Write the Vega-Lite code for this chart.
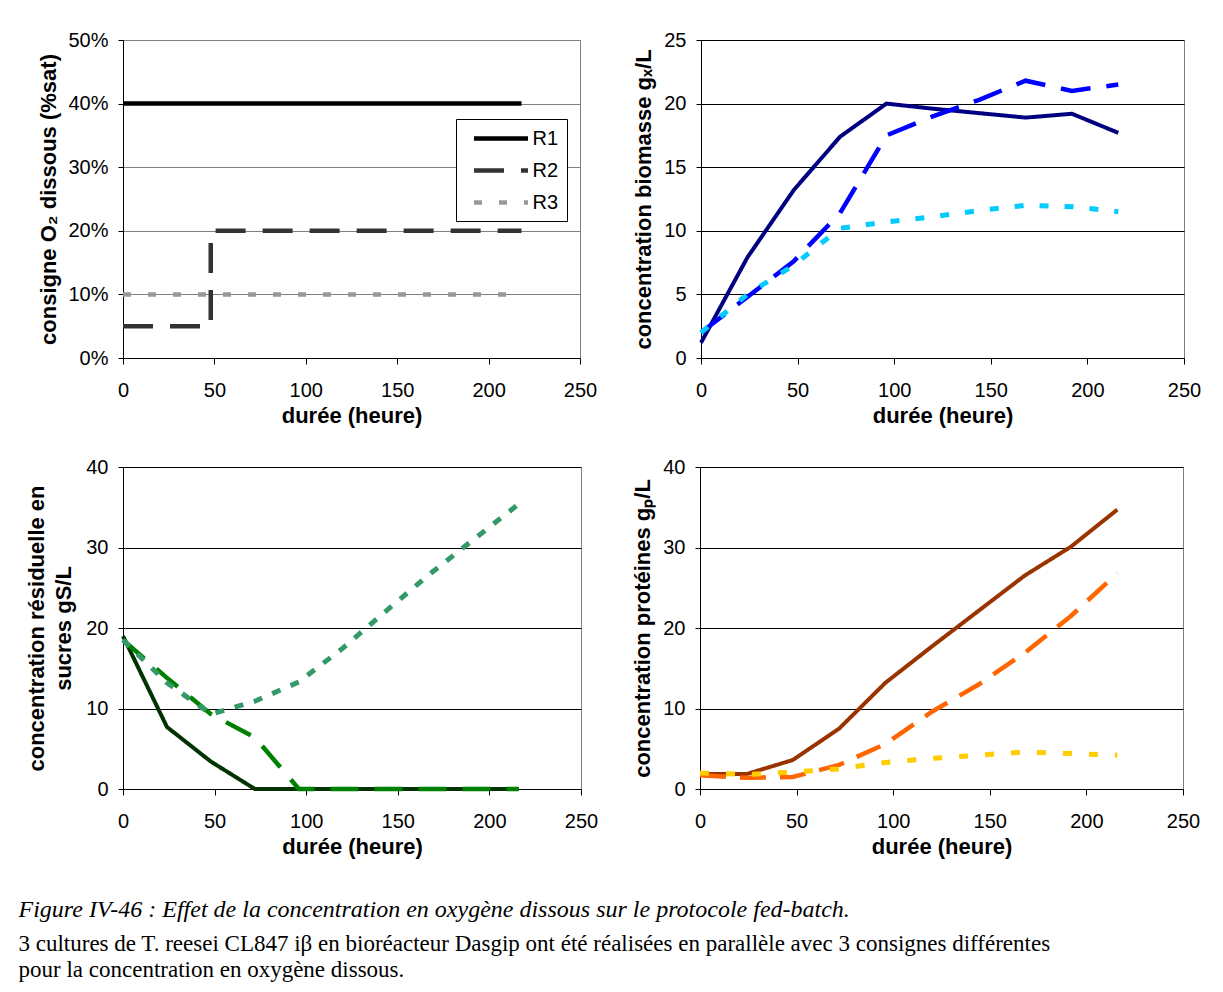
{
  "$schema": "https://vega.github.io/schema/vega-lite/v6.json",
  "background": "white",
  "padding": {"left": 18, "top": 29, "right": 0, "bottom": 0},
  "autosize": {"type": "pad"},
  "config": {
    "font": "Liberation Sans",
    "view": {"stroke": "#808080", "strokeWidth": 1},
    "axis": {
      "labelFont": "Liberation Sans", "labelFontSize": 20, "labelColor": "black",
      "titleFont": "Liberation Sans", "titleFontSize": 22, "titleFontWeight": "bold", "titleColor": "black",
      "domainColor": "black", "tickColor": "black", "gridColor": "black", "gridWidth": 1, "labelOverlap": false
    },
    "axisX": {"grid": false, "tickSize": 6, "labelPadding": 16, "titlePadding": 5, "labelFlush": false},
    "axisY": {"tickSize": 5, "labelPadding": 10},
    "line": {"strokeCap": "butt", "strokeJoin": "miter"}
  },
  "title": {
    "text": "Figure IV-46 : Effet de la concentration en oxygène dissous sur le protocole fed-batch.",
    "subtitle": ["3 cultures de T. reesei CL847 iβ en bioréacteur Dasgip ont été réalisées en parallèle avec 3 consignes différentes", "pour la concentration en oxygène dissous."],
    "orient": "bottom", "anchor": "start", "frame": "bounds",
    "font": "Liberation Serif", "fontSize": 24, "fontStyle": "italic", "fontWeight": "normal", "color": "black",
    "subtitleFont": "Liberation Serif", "subtitleFontSize": 23, "subtitleColor": "black", "subtitleLineHeight": 26, "subtitlePadding": 11,
    "offset": 40, "dx": -6
  },
  "datasets": {
    "o2": [
      {"R": "R1", "n": 1, "t": 0, "v": 0.4}, {"R": "R1", "n": 2, "t": 218, "v": 0.4},
      {"R": "R2", "n": 1, "t": 0, "v": 0.05}, {"R": "R2", "n": 2, "t": 48, "v": 0.05}, {"R": "R2", "n": 3, "t": 48, "v": 0.2}, {"R": "R2", "n": 4, "t": 218, "v": 0.2},
      {"R": "R3", "n": 1, "t": 0, "v": 0.1}, {"R": "R3", "n": 2, "t": 216, "v": 0.1}
    ],
    "bio": [
      {"R": "R1", "t": 0, "v": 1.2}, {"R": "R1", "t": 24, "v": 7.9}, {"R": "R1", "t": 48, "v": 13.2}, {"R": "R1", "t": 72, "v": 17.4}, {"R": "R1", "t": 96, "v": 20.0}, {"R": "R1", "t": 120, "v": 19.6}, {"R": "R1", "t": 144, "v": 19.25}, {"R": "R1", "t": 168, "v": 18.9}, {"R": "R1", "t": 192, "v": 19.2}, {"R": "R1", "t": 216, "v": 17.7},
      {"R": "R2", "t": 0, "v": 2.0}, {"R": "R2", "t": 24, "v": 4.8}, {"R": "R2", "t": 48, "v": 7.6}, {"R": "R2", "t": 72, "v": 11.4}, {"R": "R2", "t": 96, "v": 17.5}, {"R": "R2", "t": 120, "v": 19.0}, {"R": "R2", "t": 144, "v": 20.3}, {"R": "R2", "t": 168, "v": 21.8}, {"R": "R2", "t": 192, "v": 21.0}, {"R": "R2", "t": 216, "v": 21.5},
      {"R": "R3", "t": 0, "v": 2.0}, {"R": "R3", "t": 24, "v": 5.0}, {"R": "R3", "t": 48, "v": 7.3}, {"R": "R3", "t": 72, "v": 10.2}, {"R": "R3", "t": 96, "v": 10.7}, {"R": "R3", "t": 120, "v": 11.1}, {"R": "R3", "t": 144, "v": 11.6}, {"R": "R3", "t": 168, "v": 12.0}, {"R": "R3", "t": 192, "v": 11.9}, {"R": "R3", "t": 216, "v": 11.5}
    ],
    "sucre": [
      {"R": "R1", "t": 0, "v": 19.0}, {"R": "R1", "t": 24, "v": 7.7}, {"R": "R1", "t": 48, "v": 3.4}, {"R": "R1", "t": 72, "v": 0}, {"R": "R1", "t": 96, "v": 0}, {"R": "R1", "t": 120, "v": 0}, {"R": "R1", "t": 144, "v": 0}, {"R": "R1", "t": 168, "v": 0}, {"R": "R1", "t": 192, "v": 0}, {"R": "R1", "t": 216, "v": 0},
      {"R": "R2", "t": 0, "v": 18.5}, {"R": "R2", "t": 24, "v": 13.8}, {"R": "R2", "t": 48, "v": 9.3}, {"R": "R2", "t": 72, "v": 6.4}, {"R": "R2", "t": 96, "v": 0}, {"R": "R2", "t": 120, "v": 0}, {"R": "R2", "t": 144, "v": 0}, {"R": "R2", "t": 168, "v": 0}, {"R": "R2", "t": 192, "v": 0}, {"R": "R2", "t": 216, "v": 0},
      {"R": "R3", "t": 0, "v": 18.5}, {"R": "R3", "t": 24, "v": 13.2}, {"R": "R3", "t": 48, "v": 9.3}, {"R": "R3", "t": 72, "v": 10.9}, {"R": "R3", "t": 96, "v": 13.3}, {"R": "R3", "t": 120, "v": 17.5}, {"R": "R3", "t": 144, "v": 22.2}, {"R": "R3", "t": 168, "v": 26.8}, {"R": "R3", "t": 192, "v": 31.1}, {"R": "R3", "t": 216, "v": 35.4}
    ],
    "prot": [
      {"R": "R1", "t": 0, "v": 1.85}, {"R": "R1", "t": 24, "v": 1.85}, {"R": "R1", "t": 48, "v": 3.6}, {"R": "R1", "t": 72, "v": 7.5}, {"R": "R1", "t": 96, "v": 13.2}, {"R": "R1", "t": 120, "v": 17.7}, {"R": "R1", "t": 144, "v": 22.1}, {"R": "R1", "t": 168, "v": 26.5}, {"R": "R1", "t": 192, "v": 30.1}, {"R": "R1", "t": 216, "v": 34.7},
      {"R": "R2", "t": 0, "v": 1.7}, {"R": "R2", "t": 24, "v": 1.4}, {"R": "R2", "t": 48, "v": 1.5}, {"R": "R2", "t": 72, "v": 3.0}, {"R": "R2", "t": 96, "v": 5.6}, {"R": "R2", "t": 120, "v": 9.6}, {"R": "R2", "t": 144, "v": 12.95}, {"R": "R2", "t": 168, "v": 16.9}, {"R": "R2", "t": 192, "v": 21.5}, {"R": "R2", "t": 216, "v": 26.8},
      {"R": "R3", "t": 0, "v": 2.0}, {"R": "R3", "t": 24, "v": 1.8}, {"R": "R3", "t": 48, "v": 2.1}, {"R": "R3", "t": 72, "v": 2.5}, {"R": "R3", "t": 96, "v": 3.3}, {"R": "R3", "t": 120, "v": 3.8}, {"R": "R3", "t": 144, "v": 4.2}, {"R": "R3", "t": 168, "v": 4.6}, {"R": "R3", "t": 192, "v": 4.4}, {"R": "R3", "t": 216, "v": 4.2}
    ]
  },
  "spacing": 29,
  "align": "none",
  "resolve": {"scale": {"color": "independent", "strokeDash": "independent", "strokeWidth": "independent"}},
  "vconcat": [
    {
      "spacing": 33,
      "resolve": {"scale": {"color": "independent", "strokeDash": "independent", "strokeWidth": "independent"}},
      "hconcat": [
        {
          "width": 457, "height": 318,
          "data": {"name": "o2"},
          "mark": {"type": "line", "strokeWidth": 4.5},
          "encoding": {
            "x": {"field": "t", "type": "quantitative", "scale": {"domain": [0, 250], "nice": false}, "axis": {"values": [0, 50, 100, 150, 200, 250], "title": "durée (heure)"}},
            "y": {"field": "v", "type": "quantitative", "scale": {"domain": [0, 0.5], "nice": false}, "axis": {"values": [0, 0.1, 0.2, 0.3, 0.4, 0.5], "format": ".0%", "title": "consigne O₂ dissous (%sat)", "gridColor": "#808080", "minExtent": 58, "maxExtent": 58, "titlePadding": 5}},
            "order": {"field": "n", "type": "quantitative"},
            "color": {"field": "R", "type": "nominal", "scale": {"domain": ["R1", "R2", "R3"], "range": ["#000000", "#333333", "#999999"]},
              "legend": {"title": null, "orient": "none", "legendX": 333, "legendY": 79, "strokeColor": "black", "fillColor": "white", "padding": 8, "rowPadding": 10, "symbolType": "M-3,0H3", "symbolSize": 324, "symbolStrokeWidth": 4.5, "symbolOffset": 25.5, "labelOffset": 20, "labelFontSize": 20, "labelFont": "Liberation Sans", "labelColor": "black"}},
            "strokeDash": {"field": "R", "type": "nominal", "scale": {"domain": ["R1", "R2", "R3"], "range": [[1, 0], [30, 17], [8, 17]]},
              "legend": {"title": null, "orient": "none", "legendX": 333, "legendY": 79, "strokeColor": "black", "fillColor": "white", "padding": 8, "rowPadding": 10, "symbolType": "M-3,0H3", "symbolSize": 324, "symbolStrokeWidth": 4.5, "symbolOffset": 25.5, "labelOffset": 20, "labelFontSize": 20, "labelFont": "Liberation Sans", "labelColor": "black"}}
          }
        },
        {
          "width": 483, "height": 318,
          "data": {"name": "bio"},
          "mark": {"type": "line"},
          "encoding": {
            "x": {"field": "t", "type": "quantitative", "scale": {"domain": [0, 250], "nice": false}, "axis": {"values": [0, 50, 100, 150, 200, 250], "title": "durée (heure)"}},
            "y": {"field": "v", "type": "quantitative", "scale": {"domain": [0, 25], "nice": false}, "axis": {"values": [0, 5, 10, 15, 20, 25], "title": "concentration biomasse gₓ/L", "minExtent": 38, "maxExtent": 38, "titlePadding": 8}},
            "color": {"field": "R", "type": "nominal", "scale": {"domain": ["R1", "R2", "R3"], "range": ["#000080", "#0000FF", "#00CCFF"]}, "legend": null},
            "strokeDash": {"field": "R", "type": "nominal", "scale": {"domain": ["R1", "R2", "R3"], "range": [[1, 0], [30, 16], [9, 16]]}, "legend": null},
            "strokeWidth": {"field": "R", "type": "ordinal", "scale": {"domain": ["R1", "R2", "R3"], "range": [4, 5, 5.5]}, "legend": null}
          }
        }
      ]
    },
    {
      "spacing": 31,
      "resolve": {"scale": {"color": "independent", "strokeDash": "independent", "strokeWidth": "independent"}},
      "hconcat": [
        {
          "width": 458, "height": 322,
          "data": {"name": "sucre"},
          "mark": {"type": "line"},
          "encoding": {
            "x": {"field": "t", "type": "quantitative", "scale": {"domain": [0, 250], "nice": false}, "axis": {"values": [0, 50, 100, 150, 200, 250], "title": "durée (heure)"}},
            "y": {"field": "v", "type": "quantitative", "scale": {"domain": [0, 40], "nice": false}, "axis": {"values": [0, 10, 20, 30, 40], "title": ["concentration résiduelle en", "sucres gS/L"], "titleLineHeight": 27, "minExtent": 42, "maxExtent": 42, "titlePadding": 6}},
            "color": {"field": "R", "type": "nominal", "scale": {"domain": ["R1", "R2", "R3"], "range": ["#003300", "#008000", "#339966"]}, "legend": null},
            "strokeDash": {"field": "R", "type": "nominal", "scale": {"domain": ["R1", "R2", "R3"], "range": [[1, 0], [28, 16], [9, 11]]}, "legend": null},
            "strokeWidth": {"field": "R", "type": "ordinal", "scale": {"domain": ["R1", "R2", "R3"], "range": [4, 5, 5]}, "legend": null}
          }
        },
        {
          "width": 483, "height": 322,
          "data": {"name": "prot"},
          "mark": {"type": "line"},
          "encoding": {
            "x": {"field": "t", "type": "quantitative", "scale": {"domain": [0, 250], "nice": false}, "axis": {"values": [0, 50, 100, 150, 200, 250], "title": "durée (heure)"}},
            "y": {"field": "v", "type": "quantitative", "scale": {"domain": [0, 40], "nice": false}, "axis": {"values": [0, 10, 20, 30, 40], "title": "concentration protéines gₚ/L", "minExtent": 38, "maxExtent": 38, "titlePadding": 8}},
            "color": {"field": "R", "type": "nominal", "scale": {"domain": ["R1", "R2", "R3"], "range": ["#993300", "#FF6600", "#FFCC00"]}, "legend": null},
            "strokeDash": {"field": "R", "type": "nominal", "scale": {"domain": ["R1", "R2", "R3"], "range": [[1, 0], [26, 14], [9, 17]]}, "legend": null},
            "strokeWidth": {"field": "R", "type": "ordinal", "scale": {"domain": ["R1", "R2", "R3"], "range": [4, 5, 5.5]}, "legend": null}
          }
        }
      ]
    }
  ]
}
